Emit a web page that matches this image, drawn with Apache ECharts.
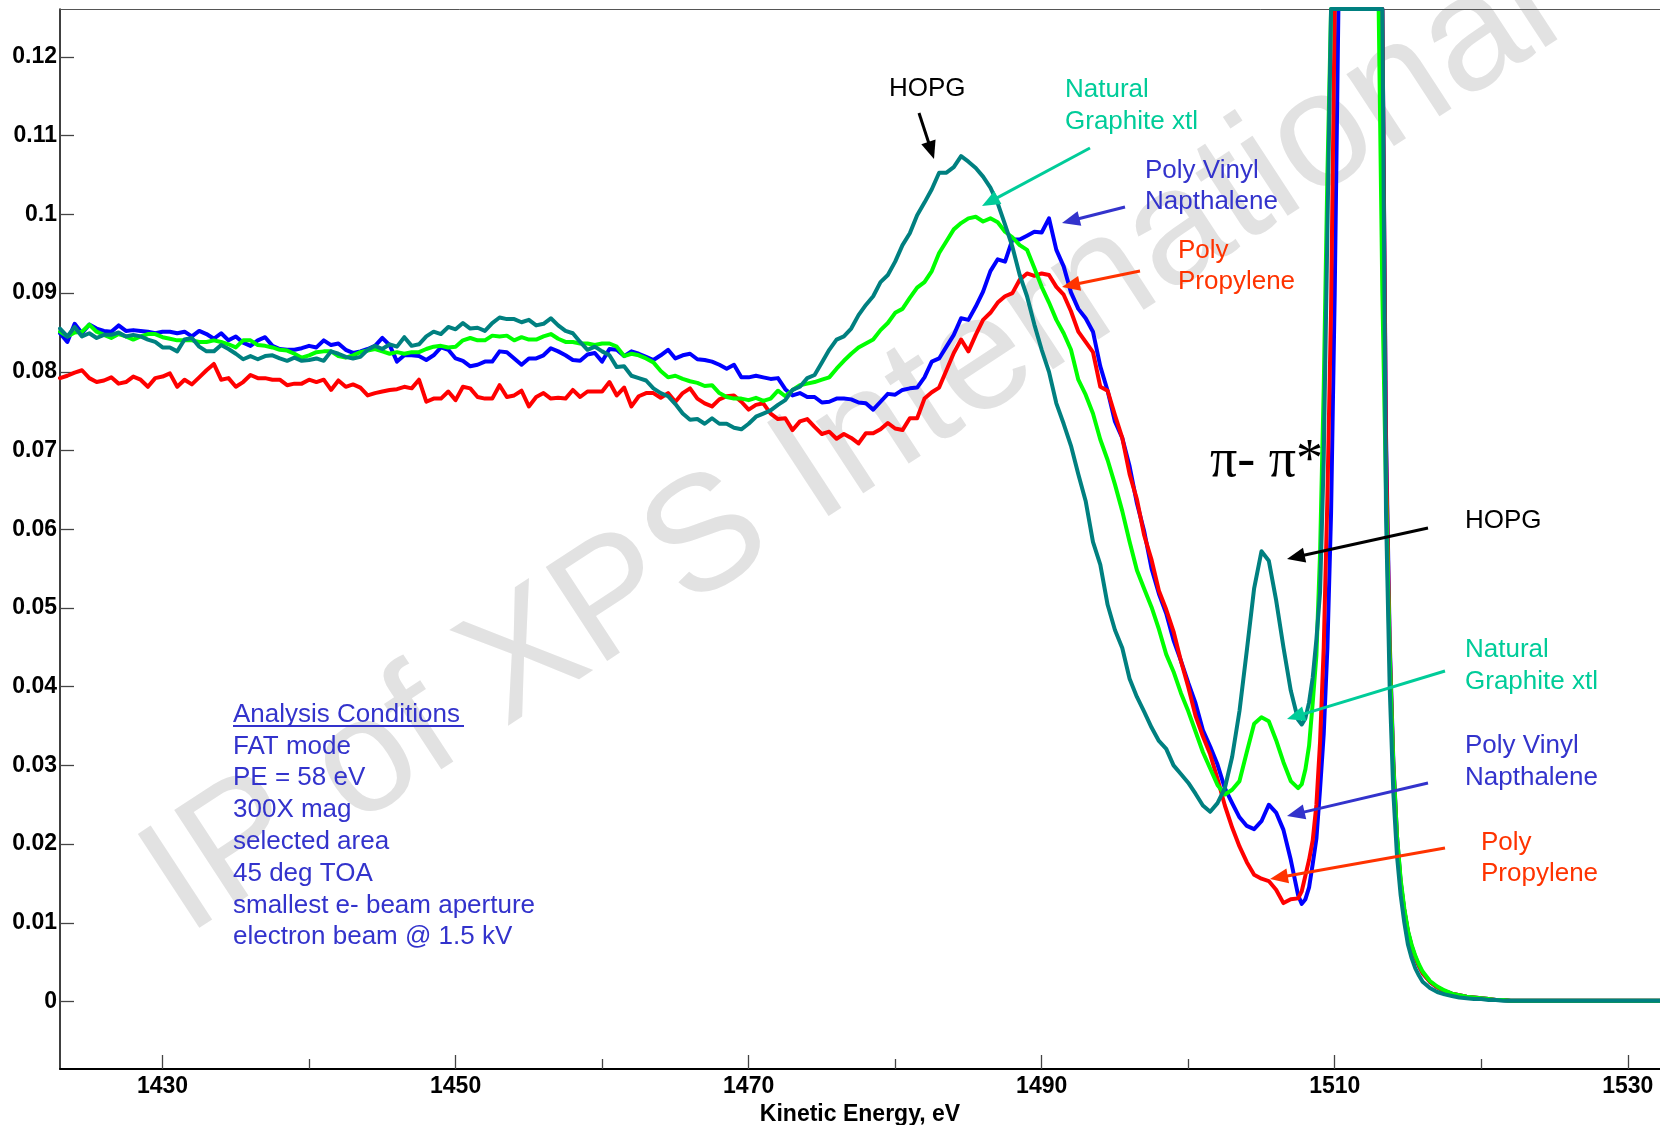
<!DOCTYPE html>
<html><head><meta charset="utf-8">
<script src="https://cdn.jsdelivr.net/npm/echarts@6/dist/echarts.min.js"></script>
<style>html,body{margin:0;padding:0;background:#fff}#c{width:1660px;height:1125px}</style>
</head><body><div id="c"></div>
<script>
// ---------- DATA ----------
const energy = [
1423,1423.5,1424,1424.5,1425,1425.5,1426,1426.5,1427,1427.5,
1428,1428.5,1429,1429.5,1430,1430.5,1431,1431.5,1432,1432.5,
1433,1433.5,1434,1434.5,1435,1435.5,1436,1436.5,1437,1437.5,
1438,1438.5,1439,1439.5,1440,1440.5,1441,1441.5,1442,1442.5,
1443,1443.5,1444,1444.5,1445,1445.5,1446,1446.5,1447,1447.5,
1448,1448.5,1449,1449.5,1450,1450.5,1451,1451.5,1452,1452.5,
1453,1453.5,1454,1454.5,1455,1455.5,1456,1456.5,1457,1457.5,
1458,1458.5,1459,1459.5,1460,1460.5,1461,1461.5,1462,1462.5,
1463,1463.5,1464,1464.5,1465,1465.5,1466,1466.5,1467,1467.5,
1468,1468.5,1469,1469.5,1470,1470.5,1471,1471.5,1472,1472.5,
1473,1473.5,1474,1474.5,1475,1475.5,1476,1476.5,1477,1477.5,
1478,1478.5,1479,1479.5,1480,1480.5,1481,1481.5,1482,1482.5,
1483,1483.5,1484,1484.5,1485,1485.5,1486,1486.5,1487,1487.5,
1488,1488.5,1489,1489.5,1490,1490.5,1491,1491.5,1492,1492.5,
1493,1493.5,1494,1494.5,1495,1495.5,1496,1496.5,1497,1497.5,
1498,1498.5,1499,1499.5,1500,1500.5,1501,1501.5,1502,1502.5,
1503,1503.5,1504,1504.5,1505,1505.5,1506,1506.5,1507,1507.5,
1507.75,1508,1508.25,1508.5,1508.75,1509,1509.25,1509.5,1509.75,1510,
1510.25,1510.5,1510.75,1511,1511.25,1511.5,1511.75,1512,1512.25,1512.5,
1512.75,1513,1513.25,1513.5,1513.75,1514,1514.25,1514.5,1514.75,1515,
1515.25,1515.5,1515.75,1516,
1516.5,1517,1517.5,1518,1518.5,1519,1519.5,1520,1520.5,1521,1521.5,1522,
1523,1524,1525,1526,1527,1528,1529,1530,1531,1532,1533
];

const hopg = [
.0855,.0845,.0857,.0845,.0849,.0843,.0847,.0847,.0850,.0845,
.0847,.0845,.0841,.0838,.0831,.0831,.0826,.0841,.0843,.0832,
.0826,.0826,.0834,.0829,.0823,.0816,.0820,.0816,.0820,.0821,
.0817,.0814,.0818,.0814,.0815,.0817,.0814,.0826,.0823,.0819,
.0817,.0819,.0828,.0833,.0829,.0835,.0832,.0844,.0833,.0835,
.0845,.0851,.0848,.0857,.0854,
.0862,.0855,.0856,.0852,.0862,.0869,.0867,.0867,.0863,.0866,
.0859,.0861,.0868,.0859,.0852,.0849,.0838,.0828,.0832,.0826,
.0821,.0806,.0807,.0795,.0792,.0789,.0779,.0773,.0769,.0759,
.0747,.0739,.0740,.0734,.0741,.0734,.0734,.0729,.0727,.0734,
.0743,.0747,.0751,.0758,.0764,.0777,.0781,.0792,.0796,.0812,
.0828,.0841,
.0845,.0855,.0872,.0885,.0896,.0914,.0923,.0940,.0961,.0976,
.0999,.1015,.1032,.1053,.1053,.1060,.1074,.1067,.1059,.1048,
.1034,.1014,.0987,.0959,.0923,.0896,.0860,.0828,.0800,.0760,
.0734,.0706,.0670,.0636,.0584,.0555,.0504,.0472,.0449,.0410,
.0387,.0368,.0348,.0331,.0321,.0300,.0289,.0278,.0264,.0249,
.0241,.0252,.0271,.0311,.0369,.0446,.0525,.0572,.0560,.0510,
.0450,.0395,.0358,
.0352,.0360,.0380,.0412,.0460,.0520,.0690,.0980,
.1261,.1261,.1261,.1261,.1261,.1261,.1261,.1261,.1261,.1261,.1261,.1261,.1261,.1261,.1261,
.0620,.0400,.0265,.0185,.0135,.0100,.0072,.0055,.0042,.0033,.0025,
.0017,.0012,.0009,.0007,.0005,.0004,.0003,.0003,.0002,.0002,.0001,.0001,
.0001,.0001,.0001,.0001,.0001,.0001,.0001,.0001,.0001,.0001,.0001
];

const naturalGraphite = [
.0851,.0845,.0850,.0851,.0860,.0851,.0847,.0843,.0848,.0845,
.0841,.0845,.0848,.0848,.0844,.0842,.0840,.0840,.0840,.0838,
.0838,.0840,.0838,.0835,.0831,.0840,.0840,.0834,.0833,.0831,
.0828,.0827,.0823,.0818,.0821,.0825,.0826,.0826,.0820,.0818,
.0821,.0825,.0827,.0829,.0826,.0823,.0825,.0823,.0825,.0825,
.0829,.0832,.0833,.0831,.0832,
.0840,.0843,.0840,.0840,.0846,.0845,.0846,.0840,.0844,.0841,
.0841,.0845,.0848,.0842,.0838,.0838,.0836,.0836,.0834,.0836,
.0836,.0832,.0820,.0823,.0821,.0817,.0812,.0801,.0793,.0795,
.0791,.0788,.0786,.0782,.0783,.0773,.0768,.0766,.0766,.0764,
.0767,.0763,.0766,.0776,.0769,.0777,.0783,.0785,.0787,.0790,
.0793,.0804,
.0814,.0823,.0831,.0836,.0841,.0853,.0862,.0875,.0880,.0894,
.0907,.0914,.0928,.0951,.0966,.0981,.0989,.0995,.0997,.0991,
.0995,.0990,.0978,.0971,.0961,.0955,.0932,.0908,.0888,.0866,
.0849,.0828,.0790,.0771,.0747,.0714,.0688,.0657,.0623,.0584,
.0548,.0524,.0501,.0473,.0441,.0419,.0392,.0369,.0343,.0317,
.0296,.0275,.0263,.0269,.0280,.0317,.0353,.0361,.0356,.0332,
.0304,.0280,.0271,
.0276,.0295,.0325,.0380,.0440,.0570,.0780,.1050,
.1261,.1261,.1261,.1261,.1261,.1261,.1261,.1261,.1261,.1261,.1261,.1261,.1261,.1261,
.0900,.0650,.0440,.0300,.0210,.0155,.0118,.0090,.0072,.0058,.0047,.0038,
.0026,.0019,.0014,.0010,.0008,.0006,.0005,.0004,.0003,.0002,.0002,.0001,
.0001,.0001,.0001,.0001,.0001,.0001,.0001,.0001,.0001,.0001,.0001
];

const polyVinylNapthalene = [
.0849,.0838,.0861,.0849,.0860,.0855,.0852,.0851,.0859,.0852,
.0853,.0852,.0851,.0849,.0851,.0851,.0849,.0851,.0845,.0852,
.0848,.0842,.0849,.0840,.0845,.0837,.0833,.0840,.0844,.0833,
.0829,.0828,.0828,.0830,.0833,.0831,.0840,.0834,.0836,.0828,
.0824,.0826,.0829,.0833,.0843,.0834,.0813,.0821,.0821,.0820,
.0815,.0821,.0831,.0828,.0817,
.0814,.0807,.0809,.0813,.0813,.0826,.0825,.0817,.0809,.0817,
.0817,.0821,.0830,.0826,.0821,.0815,.0814,.0822,.0824,.0813,
.0829,.0828,.0820,.0826,.0823,.0819,.0815,.0821,.0828,.0817,
.0821,.0823,.0816,.0815,.0813,.0809,.0804,.0809,.0793,.0793,
.0795,.0793,.0791,.0792,.0778,.0770,.0773,.0768,.0768,.0761,
.0762,.0766,
.0766,.0765,.0761,.0760,.0752,.0762,.0772,.0771,.0777,.0779,
.0780,.0793,.0813,.0817,.0832,.0847,.0868,.0866,.0883,.0902,
.0928,.0943,.0940,.0968,.0968,.0973,.0978,.0977,.0995,.0955,
.0934,.0901,.0880,.0868,.0851,.0807,.0776,.0737,.0716,.0680,
.0633,.0597,.0550,.0518,.0493,.0459,.0433,.0405,.0379,.0345,
.0324,.0301,.0271,.0252,.0234,.0223,.0219,.0229,.0250,.0240,
.0218,.0180,.0135,
.0124,.0130,.0145,.0175,.0207,.0270,.0340,.0450,.0620,.0900,
.1261,.1261,.1261,.1261,.1261,.1261,.1261,.1261,.1261,.1261,.1261,.1261,.1261,
.0720,.0460,.0305,.0210,.0152,.0115,.0088,.0070,.0056,.0045,.0036,
.0025,.0018,.0013,.0010,.0008,.0006,.0005,.0004,.0003,.0002,.0002,.0001,
.0001,.0001,.0001,.0001,.0001,.0001,.0001,.0001,.0001,.0001,.0001
];

const polyPropylene = [
.0792,.0795,.0799,.0802,.0792,.0787,.0789,.0793,.0785,.0787,
.0794,.0790,.0781,.0792,.0794,.0798,.0781,.0790,.0784,.0793,
.0802,.0810,.0790,.0792,.0781,.0787,.0796,.0792,.0792,.0790,
.0790,.0783,.0785,.0785,.0790,.0787,.0790,.0777,.0789,.0781,
.0784,.0780,.0770,.0773,.0775,.0777,.0778,.0781,.0779,.0790,
.0762,.0766,.0766,.0775,.0764,
.0781,.0779,.0768,.0766,.0766,.0783,.0768,.0770,.0776,.0756,
.0768,.0773,.0766,.0767,.0766,.0777,.0768,.0775,.0775,.0775,
.0787,.0770,.0780,.0756,.0769,.0773,.0773,.0767,.0773,.0762,
.0773,.0779,.0766,.0760,.0756,.0765,.0769,.0770,.0762,.0752,
.0758,.0760,.0747,.0740,.0741,.0726,.0737,.0740,.0730,.0721,
.0724,.0715,
.0721,.0716,.0709,.0722,.0722,.0727,.0735,.0728,.0726,.0741,
.0741,.0766,.0774,.0780,.0802,.0824,.0841,.0826,.0847,.0866,
.0875,.0888,.0896,.0900,.0917,.0925,.0922,.0925,.0923,.0908,
.0898,.0877,.0851,.0838,.0825,.0781,.0776,.0745,.0716,.0670,
.0638,.0592,.0561,.0522,.0498,.0470,.0433,.0400,.0363,.0337,
.0314,.0283,.0249,.0221,.0197,.0177,.0161,.0156,.0153,.0142,
.0125,.0130,.0131,
.0140,.0160,.0180,.0205,.0250,.0330,.0450,.0640,.0880,
.1261,.1261,.1261,.1261,.1261,.1261,.1261,.1261,.1261,.1261,.1261,.1261,.1261,.1261,
.0700,.0450,.0300,.0205,.0150,.0115,.0088,.0070,.0056,.0045,.0036,
.0025,.0018,.0013,.0010,.0008,.0006,.0005,.0004,.0003,.0002,.0002,.0001,
.0001,.0001,.0001,.0001,.0001,.0001,.0001,.0001,.0001,.0001,.0001
];

const xMajorTicks = [1430, 1450, 1470, 1490, 1510, 1530];
const xMinorTicks = [1440, 1460, 1480, 1500, 1520];
const yTicks = [0, 0.01, 0.02, 0.03, 0.04, 0.05, 0.06, 0.07, 0.08, 0.09, 0.1, 0.11, 0.12];
const X_MIN = 1423, X_MAX = 1532.2, Y_MIN = -0.00858, Y_MAX = 0.1261;

// ---------- CHART ----------
const FONT = '"Liberation Sans", Arial, sans-serif';
const chart = echarts.init(document.getElementById('c'), null, {renderer: 'canvas'});

function pairs(vals) { return energy.map((e, i) => [e, vals[i]]); }
function lineSeries(name, vals, color) {
  return { name, type: 'line', data: pairs(vals), showSymbol: false, clip: false,
    lineStyle: { color, width: 4, join: 'round', cap: 'round' }, itemStyle: { color }, silent: true };
}

function arrow(x1, y1, x2, y2, color) {
  const dx = x2 - x1, dy = y2 - y1, L = Math.hypot(dx, dy);
  const ux = dx / L, uy = dy / L, hl = 18, hw = 7.5;
  const bx = x2 - ux * hl, by = y2 - uy * hl;
  return [
    { type: 'line', z: 100, shape: { x1, y1, x2: bx + ux * 2, y2: by + uy * 2 }, style: { stroke: color, lineWidth: 3 } },
    { type: 'polygon', z: 100, shape: { points: [[x2, y2], [bx - uy * hw, by + ux * hw], [bx + uy * hw, by - ux * hw]] }, style: { fill: color } }
  ];
}
function label(text, x, y, color, size, family) {
  return { type: 'text', z: 100, x, y, style: { text, fill: color, font: (size || 26) + 'px ' + (family || FONT), align: 'left', verticalAlign: 'middle' } };
}

const C_NAT = '#00CC99', C_PVN = '#3333CC', C_PP = '#FF3300';
const graphics = [
  { type: 'text', z: -5, x: 852, y: 447, rotation: 33.2 * Math.PI / 180,
    style: { text: 'IP of XPS International', fill: '#e2e2e2', font: '163px ' + FONT, align: 'center', verticalAlign: 'middle' } },
  label('HOPG', 889, 89, '#000'),
  label('Natural', 1065, 90, C_NAT), label('Graphite xtl', 1065, 122, C_NAT),
  label('Poly Vinyl', 1145, 171, C_PVN), label('Napthalene', 1145, 202, C_PVN),
  label('Poly', 1178, 251, C_PP), label('Propylene', 1178, 282, C_PP),
  label('HOPG', 1465, 521, '#000'),
  label('Natural', 1465, 650, C_NAT), label('Graphite xtl', 1465, 682, C_NAT),
  label('Poly Vinyl', 1465, 746, C_PVN), label('Napthalene', 1465, 778, C_PVN),
  label('Poly', 1481, 843, C_PP), label('Propylene', 1481, 874, C_PP),
  label('π- π*', 1210, 462, '#000', 54, '"Liberation Serif", "Times New Roman", serif'),
  ...arrow(919, 113, 934, 159, '#000'),
  ...arrow(1090, 148, 982, 206, C_NAT),
  ...arrow(1125, 207, 1062, 223, C_PVN),
  ...arrow(1140, 271, 1062, 287, C_PP),
  ...arrow(1428, 528, 1287, 559, '#000'),
  ...arrow(1445, 671, 1287, 719, C_NAT),
  ...arrow(1428, 783, 1287, 816, C_PVN),
  ...arrow(1445, 848, 1270, 879, C_PP),
];
const cond = ['Analysis Conditions', 'FAT mode', 'PE = 58 eV', '300X mag', 'selected area', '45 deg TOA', 'smallest e- beam aperture', 'electron beam @ 1.5 kV'];
cond.forEach((t, k) => graphics.push(label(t, 233, 714.6 + 31.8 * k, C_PVN)));
graphics.push({ type: 'line', z: 100, shape: { x1: 233, y1: 726, x2: 464, y2: 726 }, style: { stroke: C_PVN, lineWidth: 2 } });

const tickLine = { lineStyle: { color: '#444', width: 1.3 } };
const option = {
  animation: false,
  backgroundColor: '#fff',
  grid: { left: 60, right: 0, top: 9, bottom: 56, containLabel: false, outerBoundsMode: 'none' },
  xAxis: [
    { type: 'value', min: X_MIN, max: X_MAX, position: 'bottom',
      axisLine: { show: true, onZero: false, lineStyle: { color: '#000', width: 2 } },
      axisTick: { show: true, inside: true, length: 14, customValues: xMajorTicks, ...tickLine },
      axisLabel: { show: true, customValues: xMajorTicks, margin: 6, color: '#000', fontSize: 23, fontWeight: 'bold', fontFamily: FONT,
        formatter: v => String(v) },
      splitLine: { show: false },
      name: 'Kinetic Energy, eV', nameLocation: 'middle', nameGap: 21,
      nameTextStyle: { color: '#000', fontSize: 23, fontWeight: 'bold', fontFamily: FONT } },
    { type: 'value', min: X_MIN, max: X_MAX, position: 'bottom',
      axisLine: { show: false, onZero: false },
      axisTick: { show: true, inside: true, length: 10, customValues: xMinorTicks, ...tickLine },
      axisLabel: { show: false }, splitLine: { show: false } },
    { type: 'value', min: X_MIN, max: X_MAX, position: 'top',
      axisLine: { show: true, onZero: false, lineStyle: { color: '#555', width: 1 } },
      axisTick: { show: false }, axisLabel: { show: false }, splitLine: { show: false } }
  ],
  yAxis: [
    { type: 'value', min: Y_MIN, max: Y_MAX, position: 'left',
      axisLine: { show: true, onZero: false, lineStyle: { color: '#000', width: 1.5 } },
      axisTick: { show: true, inside: true, length: 14, customValues: yTicks, ...tickLine },
      axisLabel: { show: true, customValues: yTicks, margin: 3, color: '#000', fontSize: 23, fontWeight: 'bold', fontFamily: FONT,
        formatter: v => String(Math.round(v * 100) / 100) },
      splitLine: { show: false } }
  ],
  series: [
    lineSeries('Poly Vinyl Napthalene', polyVinylNapthalene, '#0000FF'),
    lineSeries('Poly Propylene', polyPropylene, '#FF0000'),
    lineSeries('Natural Graphite xtl', naturalGraphite, '#00FF00'),
    lineSeries('HOPG', hopg, '#008080')
  ],
  graphic: { elements: graphics }
};
chart.setOption(option);
</script>
</body></html>
